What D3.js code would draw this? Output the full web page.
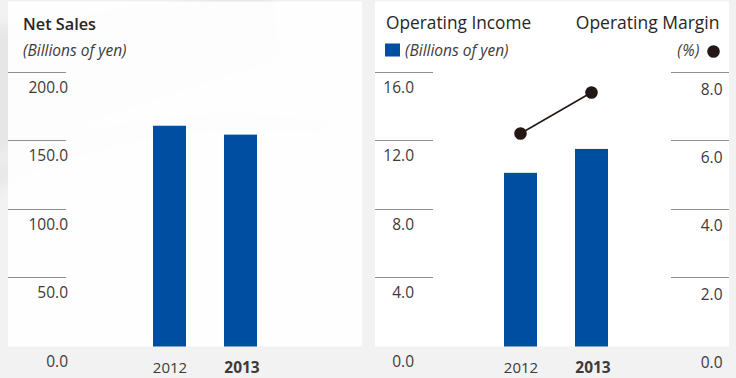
<!DOCTYPE html>
<html>
<head>
<meta charset="utf-8">
<script src="https://cdn.jsdelivr.net/npm/d3@7"></script>
<style>
  html, body { margin: 0; padding: 0; background: #f2f2f2; }
  svg { display: block; }
  text { font-family: "Open Sans", "Noto Sans", sans-serif; fill: #3e3a39; }
</style>
</head>
<body>
<svg id="chart" width="736" height="378"></svg>
<script>
// Fiscal years shown on both panels
const years = ["2012", "2013"];
// Net sales, billions of yen
const netSales = [160.7, 154.2];
// Operating income, billions of yen
const operatingIncome = [10.1, 11.5];
// Operating margin, percent
const operatingMargin = [6.2, 7.4];

const salesTicks = [0, 50, 100, 150, 200];
const incomeTicks = [0, 4, 8, 12, 16];
const marginTicks = [0, 2, 4, 6, 8];

const BLUE = "#004ea2";
const INK = "#231815";
const GRID = "#8f8f8f";

const svg = d3.select("#chart");
const defs = svg.append("defs");
defs.append("filter").attr("id", "soft")
  .attr("x", "-20%").attr("y", "-20%").attr("width", "140%").attr("height", "140%")
  .append("feGaussianBlur").attr("stdDeviation", 6);

// Faint decorative sweep behind the left panel
const deco = svg.append("g").attr("filter", "url(#soft)");
deco.append("path")
  .attr("d", "M-20,30 L270,-10 L280,60 C200,80 120,110 -20,160 Z")
  .attr("fill", "#000").attr("opacity", 0.05);
deco.append("path")
  .attr("d", "M-20,170 C80,120 200,100 330,120 L330,135 C200,125 90,140 -20,200 Z")
  .attr("fill", "#000").attr("opacity", 0.035);

// Panels
const panelTop = 1.5, panelBottom = 346.5;
svg.append("rect").attr("x", 8).attr("y", panelTop).attr("width", 354).attr("height", panelBottom - panelTop)
  .attr("fill", "#fff").attr("opacity", 0.9);
svg.append("rect").attr("x", 375).attr("y", panelTop).attr("width", 354).attr("height", panelBottom - panelTop)
  .attr("fill", "#fff");

const yZero = 345.5, yTop = 72;
const fmt = d3.format(".1f");

function gridlines(scale, ticks, x0, len) {
  svg.append("g")
    .attr("transform", `translate(${x0},0)`)
    .call(d3.axisRight(scale).tickValues(ticks.filter(d => d > 0)).tickSize(len).tickFormat(""))
    .call(g => g.select(".domain").remove())
    .call(g => g.selectAll("line").attr("stroke", GRID).attr("stroke-width", 1)
      .attr("shape-rendering", "crispEdges"));
}

function labels(scale, ticks, xRight, dy) {
  svg.append("g")
    .attr("transform", `translate(${xRight},0)`)
    .call(d3.axisLeft(scale).tickValues(ticks).tickSize(0).tickFormat(fmt))
    .call(g => g.select(".domain").remove())
    .call(g => g.selectAll("line").remove())
    .call(g => g.selectAll("text")
      .attr("x", 0).attr("dy", dy)
      .attr("text-anchor", "end")
      .attr("fill", "#3e3a39")
      .style("font-size", "15.5px")
      .style("font-family", "'Open Sans', sans-serif"));
}

function yearAxis(scale) {
  svg.append("g")
    .attr("transform", `translate(0,373)`)
    .selectAll("text").data(years).join("text")
    .attr("x", (d, i) => scale(d) + scale.bandwidth() / 2 + (i === years.length - 1 ? 1.5 : 0.5))
    .attr("text-anchor", "middle")
    .style("font-size", (d, i) => i === years.length - 1 ? "15.5px" : "15px")
    .style("font-weight", (d, i) => i === years.length - 1 ? 700 : 400)
    .text(d => d);
}

// ---------- Net Sales ----------
const ySales = d3.scaleLinear().domain([0, 200]).range([yZero, yTop]);
const xSales = d3.scaleBand().domain(years).range([153, 257]).paddingInner(0.535);

svg.append("text").attr("x", 23).attr("y", 30)
  .style("font-size", "16.3px").style("font-weight", 600).style("fill", "#2a2624").text("Net Sales");
svg.append("text").attr("x", 23).attr("y", 56)
  .style("font-size", "15.5px").style("font-style", "italic").text("(Billions of yen)");

gridlines(ySales, salesTicks, 8, 57.7);
labels(ySales, salesTicks, 68, 20.5);

svg.append("g").selectAll("rect").data(netSales).join("rect")
  .attr("x", (d, i) => xSales(years[i]))
  .attr("width", xSales.bandwidth())
  .attr("y", d => ySales(d))
  .attr("height", d => ySales(0) - ySales(d) + 1)
  .attr("fill", BLUE);

yearAxis(xSales);

// ---------- Operating Income / Margin ----------
const yIncome = d3.scaleLinear().domain([0, 16]).range([yZero, yTop]);
const yMargin = d3.scaleLinear().domain([0, 8]).range([yZero, yTop]);
const xIncome = d3.scaleBand().domain(years).range([504, 608]).paddingInner(0.535);

svg.append("text").attr("x", 386).attr("y", 28.5)
  .style("font-size", "17.3px").style("font-weight", 500).style("fill", "#2a2624").text("Operating Income");
svg.append("rect").attr("x", 385).attr("y", 43.5).attr("width", 15).attr("height", 13).attr("fill", BLUE);
svg.append("text").attr("x", 405).attr("y", 56)
  .style("font-size", "15.5px").style("font-style", "italic").text("(Billions of yen)");

svg.append("text").attr("x", 719.5).attr("y", 28.5).attr("text-anchor", "end")
  .style("font-size", "17.5px").style("font-weight", 500).style("fill", "#2a2624").text("Operating Margin");
svg.append("text").attr("x", 700).attr("y", 56).attr("text-anchor", "end")
  .style("font-size", "15.5px").style("font-style", "italic").style("letter-spacing", "0.5px").text("(%)");
svg.append("circle").attr("cx", 713.5).attr("cy", 51.5).attr("r", 6.3).attr("fill", INK);

gridlines(yIncome, incomeTicks, 375, 58.3);
gridlines(yMargin, marginTicks, 671, 57.7);
labels(yIncome, incomeTicks, 414, 20.5);
labels(yMargin, marginTicks, 722.5, 22);

svg.append("g").selectAll("rect").data(operatingIncome).join("rect")
  .attr("x", (d, i) => xIncome(years[i]))
  .attr("width", xIncome.bandwidth())
  .attr("y", d => yIncome(d))
  .attr("height", d => yIncome(0) - yIncome(d) + 1)
  .attr("fill", BLUE);

const cx = (d, i) => xIncome(years[i]) + xIncome.bandwidth() / 2;
svg.append("path")
  .datum(operatingMargin)
  .attr("d", d3.line().x(cx).y(d => yMargin(d)))
  .attr("fill", "none").attr("stroke", INK).attr("stroke-width", 1.6);
svg.append("g").selectAll("circle").data(operatingMargin).join("circle")
  .attr("cx", cx).attr("cy", d => yMargin(d)).attr("r", 6.3).attr("fill", INK);

yearAxis(xIncome);
</script>
</body>
</html>
